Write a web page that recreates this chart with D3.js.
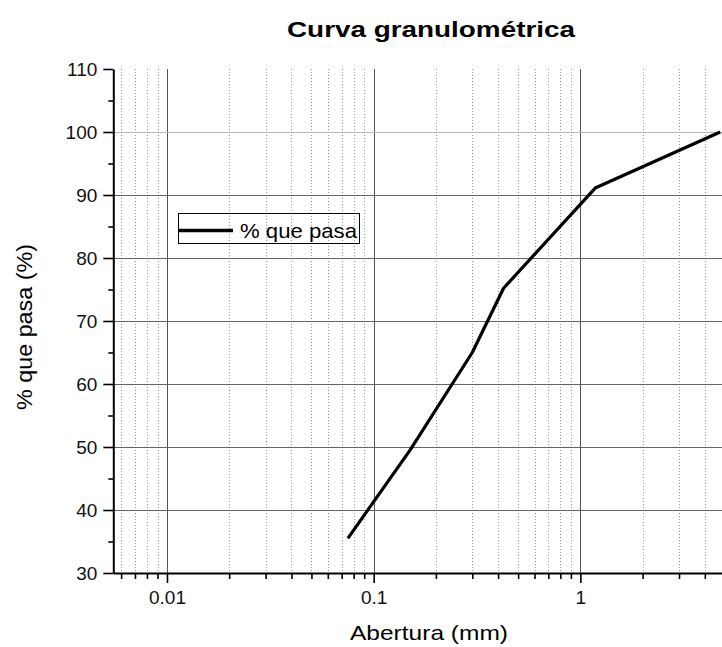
<!DOCTYPE html>
<html>
<head>
<meta charset="utf-8">
<script src="https://cdn.jsdelivr.net/npm/d3@7/dist/d3.min.js"></script>
<style>
  html, body { margin: 0; padding: 0; background: #fff; }
  svg { display: block; font-family: "Liberation Sans", Arial, sans-serif; }
</style>
</head>
<body>
<svg id="chart" width="722" height="647"></svg>
<script>
// Sieve opening (mm) and cumulative percent passing
const aberturas = [0.075, 0.15, 0.3, 0.425, 1.18, 4.75];
const pasa = [35.5, 49.5, 65, 75.2, 91.1, 100];

const xMajorTicks = [0.01, 0.1, 1];
const xTickLabels = ["0.01", "0.1", "1"];
const yMajorTicks = [30, 40, 50, 60, 70, 80, 90, 100, 110];
const yMinorTicks = [35, 45, 55, 65, 75, 85, 95, 105];
const yGridValues = [40, 50, 60, 70, 80, 90, 100];

const titulo = "Curva granulométrica";
const ejeX = "Abertura (mm)";
const ejeY = "% que pasa (%)";
const leyenda = "% que pasa";

const svg = d3.select("#chart");

const plotLeft = 113.3, plotBottom = 573, plotTop = 69;
const x = d3.scaleLog().domain([0.0055, 5.5]).range([plotLeft, 733.4]);
const y = d3.scaleLinear().domain([30, 110]).range([plotBottom, plotTop]);

// minor decade ticks (2..9 x 10^e) inside the domain
const xMinorTicks = [];
for (let e = -3; e <= 0; e++) {
  for (let k = 2; k <= 9; k++) {
    const v = k * Math.pow(10, e);
    if (v >= x.domain()[0] && v <= x.domain()[1]) xMinorTicks.push(+v.toPrecision(3));
  }
}

// grid
const grid = svg.append("g");
grid.selectAll("line.vminor").data(xMinorTicks).join("line")
  .attr("x1", d => Math.round(x(d)) + 0.5).attr("x2", d => Math.round(x(d)) + 0.5)
  .attr("y1", plotTop).attr("y2", plotBottom)
  .attr("stroke", "#999").attr("stroke-width", 1).attr("stroke-dasharray", "1,2");
grid.selectAll("line.vmajor").data(xMajorTicks).join("line")
  .attr("x1", d => Math.round(x(d)) + 0.5).attr("x2", d => Math.round(x(d)) + 0.5)
  .attr("y1", plotTop).attr("y2", plotBottom)
  .attr("stroke", "#555").attr("stroke-width", 1);
grid.selectAll("line.h").data(yGridValues).join("line")
  .attr("x1", plotLeft).attr("x2", 722)
  .attr("y1", d => Math.round(y(d)) + 0.5).attr("y2", d => Math.round(y(d)) + 0.5)
  .attr("stroke", d => d === 100 ? "#bbb" : "#666").attr("stroke-width", 1);

// axes
const fmt = d => xTickLabels[xMajorTicks.indexOf(d)];
const xMinorAxis = svg.append("g").attr("transform", `translate(0,${plotBottom})`)
  .call(d3.axisBottom(x).tickValues(xMinorTicks).tickSize(6).tickSizeOuter(0).tickFormat(""));
const xAxis = svg.append("g").attr("transform", `translate(0,${plotBottom})`)
  .call(d3.axisBottom(x).tickValues(xMajorTicks).tickSize(10).tickSizeOuter(0).tickPadding(8).tickFormat(fmt));
const yMinorAxis = svg.append("g").attr("transform", `translate(${plotLeft},0)`)
  .call(d3.axisLeft(y).tickValues(yMinorTicks).tickSize(5).tickSizeOuter(0).tickFormat(""));
const yAxis = svg.append("g").attr("transform", `translate(${plotLeft},0)`)
  .call(d3.axisLeft(y).tickValues(yMajorTicks).tickSize(10).tickSizeOuter(0).tickPadding(6).tickFormat(d3.format("d")));

[xMinorAxis, xAxis, yMinorAxis, yAxis].forEach(g => {
  g.attr("font-size", 19).attr("font-family", "'Liberation Sans', Arial, sans-serif");
  g.selectAll(".tick line").attr("stroke", "#000").attr("stroke-width", 1.6);
  g.selectAll("text").attr("fill", "#111");
  g.select(".domain").attr("stroke", "#000").attr("stroke-width", 2);
});
xMinorAxis.select(".domain").remove();
yMinorAxis.select(".domain").remove();

// data curve
const pts = aberturas.map((a, i) => [a, pasa[i]]);
svg.append("path").datum(pts)
  .attr("fill", "none").attr("stroke", "#000").attr("stroke-width", 3.2)
  .attr("stroke-linejoin", "round")
  .attr("d", d3.line().x(d => x(d[0])).y(d => y(d[1])));

// legend
const lg = svg.append("g");
lg.append("rect").attr("x", 178.5).attr("y", 213.5).attr("width", 181).attr("height", 30)
  .attr("fill", "none").attr("stroke", "#000").attr("stroke-width", 1);
lg.append("line").attr("x1", 179).attr("x2", 233).attr("y1", 230.5).attr("y2", 230.5)
  .attr("stroke", "#000").attr("stroke-width", 3.5);
lg.append("text").attr("x", 240).attr("y", 238).attr("font-size", 21)
  .attr("textLength", 117).attr("lengthAdjust", "spacingAndGlyphs").text(leyenda);

// titles
svg.append("text").attr("x", 287).attr("y", 37).attr("font-size", 22).attr("font-weight", "bold")
  .attr("textLength", 288).attr("lengthAdjust", "spacingAndGlyphs").text(titulo);
svg.append("text").attr("x", 350).attr("y", 640).attr("font-size", 21)
  .attr("textLength", 158).attr("lengthAdjust", "spacingAndGlyphs").text(ejeX);
svg.append("text").attr("transform", "translate(32,327) rotate(-90)").attr("text-anchor", "middle")
  .attr("font-size", 22).attr("textLength", 166).attr("lengthAdjust", "spacingAndGlyphs").text(ejeY);
</script>
</body>
</html>
